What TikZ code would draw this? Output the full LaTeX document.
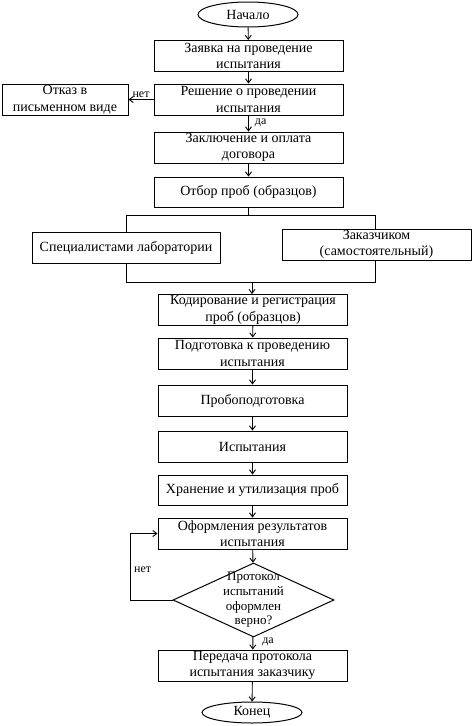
\documentclass[tikz,border=0pt]{standalone}
\usepackage{fontspec}
\setmainfont{Liberation Serif}
\usetikzlibrary{shapes.geometric,arrows.meta}
\begin{document}
\begin{tikzpicture}[x=1pt,y=-1pt,
  box/.style={draw,line width=1pt,minimum width=189pt,minimum height=31pt,inner sep=0pt,align=center,font=\fontsize{14}{16.5}\selectfont},
  term/.style={draw,ellipse,line width=1pt,minimum width=100pt,inner sep=0pt,font=\fontsize{14}{16}\selectfont},
  dia/.style={draw,diamond,line width=1pt,minimum width=161pt,minimum height=74pt,inner sep=0pt,aspect=2.18},
  arr/.style={-{Straight Barb[length=4pt,width=6pt]},line width=0.9pt},
  ln/.style={line width=0.9pt},
  lbl/.style={font=\fontsize{12}{14}\selectfont,inner sep=1pt}]
\useasboundingbox (0,0) rectangle (472,726);
\node[term,minimum height=25pt] (start) at (248,14.5) {Начало};
\node[box] (b1) at (248.5,56) {Заявка на проведение\\испытания};
\node[box] (b2) at (248.5,99.5) {Решение о проведении\\испытания};
\node[box,minimum width=126pt] (refuse) at (65,99.5) {Отказ в\\письменном виде};
\node[box] (b3) at (248.5,147.5) {Заключение и оплата\\договора};
\node[box,minimum height=30pt] (b4) at (248.5,192) {Отбор проб (образцов)};
\node[box,minimum width=188pt] (left) at (126,248) {Специалистами лаборатории};
\node[box] (right) at (376.5,244.5) {Заказчиком\\(самостоятельный)};
\node[box] (b5) at (253,310) {Кодирование и регистрация\\проб (образцов)};
\node[box] (b6) at (252.5,353.5) {Подготовка к проведению\\испытания};
\node[box] (b7) at (252.5,400.5) {Пробоподготовка};
\node[box] (b8) at (252.5,446.5) {Испытания};
\node[box,minimum height=30pt] (b9) at (252.5,490) {Хранение и утилизация проб};
\node[box] (b10) at (252.5,533.5) {Оформления результатов\\испытания};
\node[dia,label={[font=\fontsize{13}{14.7}\selectfont,align=center]center:Протокол\\испытаний\\оформлен\\верно?}] (d) at (253.5,600) {};
\node[box] (b11) at (252.5,665.5) {Передача протокола\\испытания заказчику};
\node[term,minimum height=21pt] (end) at (252,712.5) {Конец};
\coordinate (sL) at (126,215);
\coordinate (sR) at (375,215);
\coordinate (mL) at (126,282);
\coordinate (mR) at (375,282);
\coordinate (m) at (252,282);
\coordinate (loopx) at (130,600);
\draw[arr] (start) -- (b1);
\draw[arr] (b1) -- (b2);
\draw[arr] (b2.west) -- node[lbl,above] {нет} (refuse.east);
\draw[arr] (b2) -- node[lbl,right,pos=0.45,xshift=5pt] {да} (b3);
\draw[arr] (b3) -- (b4);
\draw[ln] (b4.south) -- (b4.south |- sL);
\draw[ln] (sL |- left.north) -- (sL) -- (sR) -- (sR |- right.north);
\draw[ln] (left.south) -- (mL) -- (mR) -- (mR |- right.south);
\draw[arr] (m) -- (m |- b5.north);
\draw[arr] (b5) -- (b6);
\draw[arr] (b6) -- (b7);
\draw[arr] (b7) -- (b8);
\draw[arr] (b8) -- (b9);
\draw[arr] (b9) -- (b10);
\draw[arr] (b10) -- (d);
\draw[arr] (d) -- node[lbl,right,pos=0.4,xshift=8pt] {да} (b11);
\draw[arr] (b11) -- (end);
\draw[arr] (d.west) -- (loopx) |- (b10.west);
\node[lbl,anchor=west] (no2) at (133,570) {нет};
\end{tikzpicture}
\end{document}
